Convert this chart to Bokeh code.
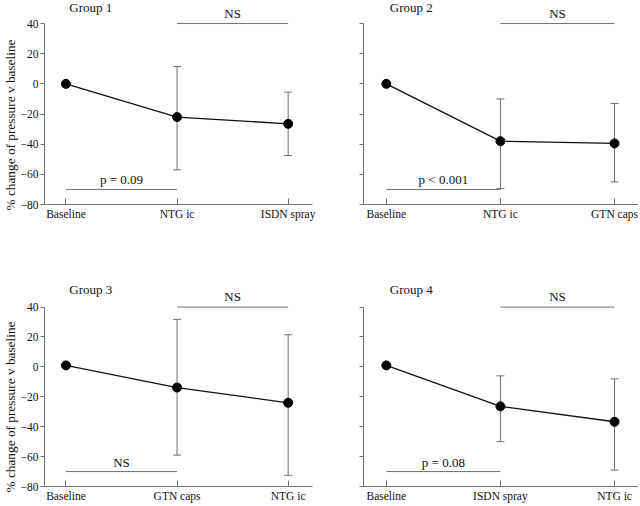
from bokeh.plotting import figure
from bokeh.layouts import gridplot
from bokeh.models import Range1d, FixedTicker, Whisker, TeeHead, ColumnDataSource, Title
from bokeh.core.properties import value
from bokeh.embed import file_html
from bokeh.resources import INLINE

# ---- data ----
titles = ["Group 1", "Group 2", "Group 3", "Group 4"]
cats1 = ["Baseline", "NTG ic", "ISDN spray"]
cats2 = ["Baseline", "NTG ic", "GTN caps"]
cats3 = ["Baseline", "GTN caps", "NTG ic"]
cats4 = ["Baseline", "ISDN spray", "NTG ic"]
mean1 = [0, -22, -26.5]
mean2 = [0, -38, -39.5]
mean3 = [1, -13.8, -24]
mean4 = [1, -26.4, -36.7]
upper1 = [11.5, -5.5]
lower1 = [-57, -47.5]
upper2 = [-10, -13]
lower2 = [-69.5, -65]
upper3 = [31.8, 21.5]
lower3 = [-59, -72.5]
upper4 = [-6, -8]
lower4 = [-50, -69]
sig_baseline = ["p = 0.09", "p < 0.001", "NS", "p = 0.08"]
sig_treat = ["NS", "NS", "NS", "NS"]
y_ticks = [-80, -60, -40, -20, 0, 20, 40]
y_label = "% change of pressure v baseline"

FONT = "Liberation Serif"
GRAY = "#707070"
TXT = "#111111"
SCALE = 1.508  # px per unit


def panel(title, cats, mean, upper, lower, s_low, s_high, left, top):
    width = 320 if left else 318
    height = 253 if top else 251
    mb_left = 37 if left else 43
    mb_right = 8 if left else 0
    mb_bottom = 49 if top else 16
    frame_h = height - mb_bottom
    y_top = -80 + frame_h / SCALE
    x0 = -0.193 if left else -0.2
    x1 = 2.219 if left else 2.21
    p = figure(width=width, height=height, output_backend="svg",
               toolbar_location=None,
               x_range=Range1d(x0, x1),
               y_range=Range1d(-80, y_top),
               min_border_left=mb_left, min_border_right=mb_right,
               min_border_top=0, min_border_bottom=mb_bottom)
    p.outline_line_color = None
    p.grid.visible = False
    p.background_fill_color = "white"
    p.border_fill_color = "white"

    # x axis
    xa = p.xaxis[0]
    xa.ticker = FixedTicker(ticks=[0, 1, 2])
    xa.major_label_overrides = {i: c for i, c in enumerate(cats)}
    xa.major_tick_in = 6
    xa.major_tick_out = 0
    xa.minor_tick_line_color = None
    xa.axis_line_color = GRAY
    xa.major_tick_line_color = GRAY
    xa.major_label_text_font = FONT
    xa.major_label_text_font_size = "11.5px"
    xa.major_label_text_color = TXT
    xa.major_label_standoff = 3

    # y axis
    ya = p.yaxis[0]
    ya.ticker = FixedTicker(ticks=y_ticks)
    ya.bounds = (-80, 40)
    ya.major_tick_in = 0
    ya.major_tick_out = 4
    ya.minor_tick_line_color = None
    ya.axis_line_color = GRAY
    ya.major_tick_line_color = GRAY
    ya.major_label_text_font = FONT
    ya.major_label_text_font_size = "11.5px"
    ya.major_label_standoff = 2
    if left:
        ya.major_label_text_color = TXT
        ya.major_label_overrides = {t: (str(t).replace("-", "\u2212")) for t in y_ticks}
        # axis title as a side title so it can start near the bottom of the axis
        t = Title(text=y_label, align="left", offset=-6, standoff=0,
                  text_font=FONT, text_font_size="13.3px", text_font_style="normal",
                  text_color=TXT)
        p.add_layout(t, "left")
    else:
        ya.major_label_text_color = None

    xs = list(range(len(cats)))
    # error bars (treatments only)
    src = ColumnDataSource(dict(x=xs[1:], upper=upper, lower=lower))
    w = Whisker(base="x", upper="upper", lower="lower", source=src,
                line_color=GRAY, line_width=1,
                upper_head=TeeHead(size=8, line_color=GRAY, line_width=1),
                lower_head=TeeHead(size=8, line_color=GRAY, line_width=1))
    p.add_layout(w)

    p.line(xs, mean, line_color=TXT, line_width=1.3)
    p.scatter(xs, mean, size=9, fill_color="black", line_color="black")

    # significance brackets
    p.segment(x0=[1], y0=[40], x1=[2], y1=[40], line_color=GRAY, line_width=1)
    p.segment(x0=[0], y0=[-70], x1=[1], y1=[-70], line_color=GRAY, line_width=1)
    p.text(x=[1.5], y=[40], text=[s_high], text_align="center", text_baseline="bottom",
           y_offset=-3, text_font=value(FONT), text_font_size="13px", text_color=TXT)
    p.text(x=[0.5], y=[-70], text=[s_low], text_align="center", text_baseline="bottom",
           y_offset=-2, text_font=value(FONT), text_font_size="13px", text_color=TXT)

    # group title
    p.text(x=[0.03], y=[40], text=[title], text_align="left", text_baseline="bottom",
           y_offset=-9 if top else -10, text_font=value(FONT), text_font_size="13px",
           text_color=TXT)
    return p


p1 = panel(titles[0], cats1, mean1, upper1, lower1, sig_baseline[0], sig_treat[0], True, True)
p2 = panel(titles[1], cats2, mean2, upper2, lower2, sig_baseline[1], sig_treat[1], False, True)
p3 = panel(titles[2], cats3, mean3, upper3, lower3, sig_baseline[2], sig_treat[2], True, False)
p4 = panel(titles[3], cats4, mean4, upper4, lower4, sig_baseline[3], sig_treat[3], False, False)

grid = gridplot([[p1, p2], [p3, p4]], toolbar_location=None)

open("out.html", "w").write(file_html(grid, INLINE))
